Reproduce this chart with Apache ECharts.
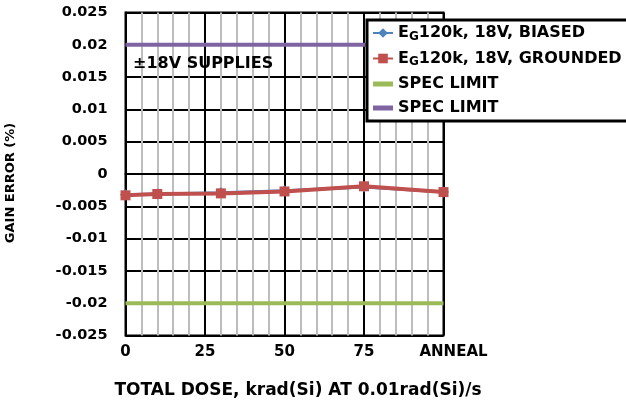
<!DOCTYPE html>
<html>
<head>
<meta charset="utf-8">
<script src="https://cdn.jsdelivr.net/npm/echarts@6/dist/echarts.min.js"></script>
<style>
  html, body { margin: 0; padding: 0; background: #fff; }
  #box { width: 626px; height: 402px; }
</style>
</head>
<body>
<div id="box"></div>
<script>
// dose points (krad(Si)); 100 stands for the anneal step
const doses = [0, 10, 30, 50, 75, 100]
const biased = [-0.0032, -0.0031, -0.0029, -0.0026, -0.0020, -0.0028]
const grounded = [-0.0033, -0.0031, -0.0030, -0.0027, -0.0019, -0.0028]
const specHigh = [0.02, 0.02]
const specLow = [-0.02, -0.02]
const specDoses = [0, 100]
const xTickLabels = { 0: '0', 25: '25', 50: '50', 75: '75', 100: '{a|ANNEAL}' }
const yTickLabels = ['-0.025', '-0.02', '-0.015', '-0.01', '-0.005', '0', '0.005', '0.01', '0.015', '0.02', '0.025']

const font = 'DejaVu Sans, sans-serif'
const pair = (xs, ys) => xs.map((x, i) => [x, ys[i]])
const barIcon = 'path://M0,0 L20,0 L20,5 L0,5 Z'

const chart = echarts.init(document.getElementById('box'))
chart.setOption({
  animation: false,
  textStyle: { fontFamily: font },
  grid: {
    left: 125.5, right: 182.5, top: 12.5, bottom: 66.5,
    outerBoundsMode: 'none',
    show: true, borderColor: '#000', borderWidth: 2
  },
  xAxis: {
    type: 'value',
    min: 0, max: 100, interval: 25,
    name: 'TOTAL DOSE, krad(Si) AT 0.01rad(Si)/s',
    nameLocation: 'middle', nameGap: 47,
    nameTextStyle: { color: '#000', fontWeight: 'bold', fontSize: 17, fontFamily: font, padding: [0, 0, 0, 27] },
    axisLine: { lineStyle: { color: '#000', width: 2 } },
    axisTick: { show: false },
    axisLabel: {
      color: '#000', fontWeight: 'bold', fontSize: 15, margin: 9, fontFamily: font,
      formatter: v => xTickLabels[v],
      rich: { a: { color: '#000', fontWeight: 'bold', fontSize: 15, fontFamily: font, padding: [0, 0, 0, 20] } }
    },
    splitLine: { show: true, lineStyle: { color: '#000', width: 2 } },
    minorTick: { show: false, splitNumber: 5 },
    minorSplitLine: { show: true, lineStyle: { color: '#bdbdbd', width: 2 } }
  },
  yAxis: {
    type: 'value',
    min: -0.025, max: 0.025, interval: 0.005,
    name: 'GAIN ERROR (%)',
    nameLocation: 'middle', nameGap: 108, nameRotate: 90,
    nameTextStyle: { color: '#000', fontWeight: 'bold', fontSize: 13, fontFamily: font, padding: [0, 18, 0, 0] },
    axisLine: { show: true, lineStyle: { color: '#000', width: 2 } },
    axisTick: { show: false },
    axisLabel: {
      color: '#000', fontWeight: 'bold', fontSize: 14.5, margin: 18, fontFamily: font,
      formatter: v => yTickLabels[Math.round((v + 0.025) / 0.005)]
    },
    splitLine: { show: true, lineStyle: { color: '#000', width: 2 } }
  },
  legend: {
    left: 367, top: 20,
    orient: 'vertical',
    backgroundColor: '#fff',
    borderColor: '#000', borderWidth: 3,
    padding: [5, 30, 5, 5],
    itemWidth: 20, itemHeight: 12, itemGap: 8,
    data: [
      { name: 'biased' },
      { name: 'grounded' },
      { name: 'specLow', icon: barIcon },
      { name: 'specHigh', icon: barIcon }
    ],
    formatter: name => ({
      biased: '{b|E}{s|G}{b|120k, 18V, BIASED}',
      grounded: '{b|E}{s|G}{b|120k, 18V, GROUNDED}',
      specLow: '{b|SPEC LIMIT}',
      specHigh: '{b|SPEC LIMIT}'
    })[name],
    textStyle: {
      rich: {
        b: { fontWeight: 'bold', fontSize: 16, color: '#000', fontFamily: font },
        s: { fontWeight: 'bold', fontSize: 12, color: '#000', fontFamily: font, padding: [7, 0, 0, 0] }
      }
    }
  },
  graphic: [{
    type: 'text', left: 133, top: 56, z: 5,
    style: { text: '±18V SUPPLIES', fill: '#000', font: 'bold 16px ' + font }
  }],
  series: [
    {
      name: 'specHigh', type: 'line', data: pair(specDoses, specHigh),
      showSymbol: false, symbol: 'none', z: 3,
      lineStyle: { color: '#8064a2', width: 4 }, itemStyle: { color: '#8064a2' }
    },
    {
      name: 'specLow', type: 'line', data: pair(specDoses, specLow),
      showSymbol: false, symbol: 'none', z: 3,
      lineStyle: { color: '#9bbb59', width: 4 }, itemStyle: { color: '#9bbb59' }
    },
    {
      name: 'biased', type: 'line', data: pair(doses, biased),
      symbol: 'diamond', symbolSize: 11, z: 3,
      lineStyle: { color: '#4f81bd', width: 3 }, itemStyle: { color: '#4f81bd' }
    },
    {
      name: 'grounded', type: 'line', data: pair(doses, grounded),
      symbol: 'rect', symbolSize: 10, z: 4,
      lineStyle: { color: '#c0504d', width: 4 }, itemStyle: { color: '#c0504d' }
    }
  ]
})
</script>
</body>
</html>
